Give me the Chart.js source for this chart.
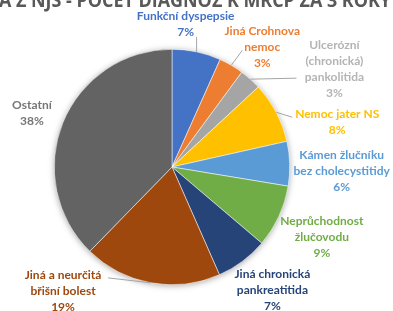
<!DOCTYPE html>
<html>
<head>
<meta charset="utf-8">
<script src="https://cdn.jsdelivr.net/npm/chart.js@4/dist/chart.umd.min.js"></script>
<style>
  html, body { margin: 0; padding: 0; background: #fff; }
  canvas { display: block; }
</style>
</head>
<body>
<canvas id="pie" width="393" height="311"></canvas>
<script>
// data
const chartTitle = 'A Z NJS - POČET DIAGNÓZ K MRCP ZA 3 ROKY';
const categories = [
    'Funkční dyspepsie',
    'Jiná Crohnova nemoc',
    'Ulcerózní (chronická) pankolitida',
    'Nemoc jater NS',
    'Kámen žlučníku bez cholecystitidy',
    'Neprůchodnost žlučovodu',
    'Jiná chronická pankreatitida',
    'Jiná a neurčitá břišní bolest',
    'Ostatní'
];
const labelLines = [
    ['Funkční dyspepsie'],
    ['Jiná Crohnova', 'nemoc'],
    ['Ulcerózní', '(chronická)', 'pankolitida'],
    ['Nemoc jater NS'],
    ['Kámen žlučníku', 'bez cholecystitidy'],
    ['Neprůchodnost', 'žlučovodu'],
    ['Jiná chronická', 'pankreatitida'],
    ['Jiná a neurčitá', 'břišní bolest'],
    ['Ostatní']
];
const shares = [6.7, 3.4, 3.0, 8.4, 6.1, 8.6, 7.2, 18.9, 37.7];

const sliceColors = ['#4472C4', '#ED7D31', '#A5A5A5', '#FFC000', '#5B9BD5', '#70AD47', '#264478', '#9E480E', '#636363'];
const textColors  = ['#4472C4', '#ED7D31', '#B4B4B4', '#FFC000', '#5B9BD5', '#70AD47', '#264478', '#9E480E', '#767676'];

// label placement relative to the outer middle point of each slice
// leader: end point of the leader line relative to the label centre (null = no line)
const labelPlace = [
    { dx: -11, dy: -28, leader: [11, 13] },
    { dx: 31, dy: -18, leader: [-20, 3] },
    { dx: 84, dy: -10, leader: [-38, 9] },
    { dx: 61, dy: 10, leader: [-45, -5] },
    { dx: 52, dy: 7, leader: null },
    { dx: 43, dy: 21, leader: null },
    { dx: 30, dy: 29, leader: null },
    { dx: -88, dy: 8, leader: [45, -13] },
    { dx: -31, dy: -9, leader: null }
];

const total = shares.reduce((a, b) => a + b, 0);

const labelPlugin = {
    id: 'outsideLabels',
    beforeDatasetsDraw(chart) {
        const arc = chart.getDatasetMeta(0).data[0];
        if (!arc) return;
        const { x, y, outerRadius } = arc.getProps(['x', 'y', 'outerRadius'], true);
        const ctx = chart.ctx;
        ctx.save();
        ctx.shadowColor = 'rgba(0,0,0,0.35)';
        ctx.shadowBlur = 6;
        ctx.shadowOffsetY = 1;
        ctx.fillStyle = '#ffffff';
        ctx.beginPath();
        ctx.arc(x, y, outerRadius, 0, Math.PI * 2);
        ctx.fill();
        ctx.restore();
    },
    afterDatasetsDraw(chart) {
        const ctx = chart.ctx;
        const meta = chart.getDatasetMeta(0);
        const lineH = 16;

        // title (cut off at the top like in the source image)
        ctx.save();
        ctx.font = 'bold 20px "Open Sans", sans-serif';
        ctx.fillStyle = '#595959';
        ctx.textAlign = 'center';
        ctx.textBaseline = 'alphabetic';
        ctx.fillText(chartTitle, 195, 7, 392);
        ctx.restore();

        meta.data.forEach((arc, i) => {
            const p = arc.getProps(['x', 'y', 'startAngle', 'endAngle', 'outerRadius'], true);
            const mid = (p.startAngle + p.endAngle) / 2;
            const ox = p.x + Math.cos(mid) * p.outerRadius;
            const oy = p.y + Math.sin(mid) * p.outerRadius;
            const pl = labelPlace[i];
            const cx = ox + pl.dx;
            const cy = oy + pl.dy;
            const lines = labelLines[i].concat([Math.round(shares[i] / total * 100) + '%']);

            if (pl.leader) {
                ctx.save();
                ctx.strokeStyle = '#A6A6A6';
                ctx.lineWidth = 1;
                ctx.beginPath();
                ctx.moveTo(ox, oy);
                ctx.lineTo(cx + pl.leader[0], cy + pl.leader[1]);
                ctx.stroke();
                ctx.restore();
            }

            ctx.save();
            ctx.font = 'bold 12px Lato, sans-serif';
            ctx.fillStyle = textColors[i];
            ctx.textAlign = 'center';
            ctx.textBaseline = 'middle';
            const top = cy - (lines.length - 1) * lineH / 2;
            lines.forEach((t, k) => ctx.fillText(t, cx, top + k * lineH));
            ctx.restore();
        });
    }
};

new Chart(document.getElementById('pie'), {
    type: 'pie',
    data: {
        labels: categories,
        datasets: [{
            data: shares,
            backgroundColor: sliceColors,
            borderColor: '#ffffff',
            borderWidth: 0.5
        }]
    },
    options: {
        responsive: false,
        devicePixelRatio: 1,
        animation: false,
        layout: { padding: { left: 54, right: 103, top: 49, bottom: 26 } },
        plugins: {
            legend: { display: false },
            tooltip: { enabled: false },
            title: { display: false }
        }
    },
    plugins: [labelPlugin]
});
</script>
</body>
</html>
